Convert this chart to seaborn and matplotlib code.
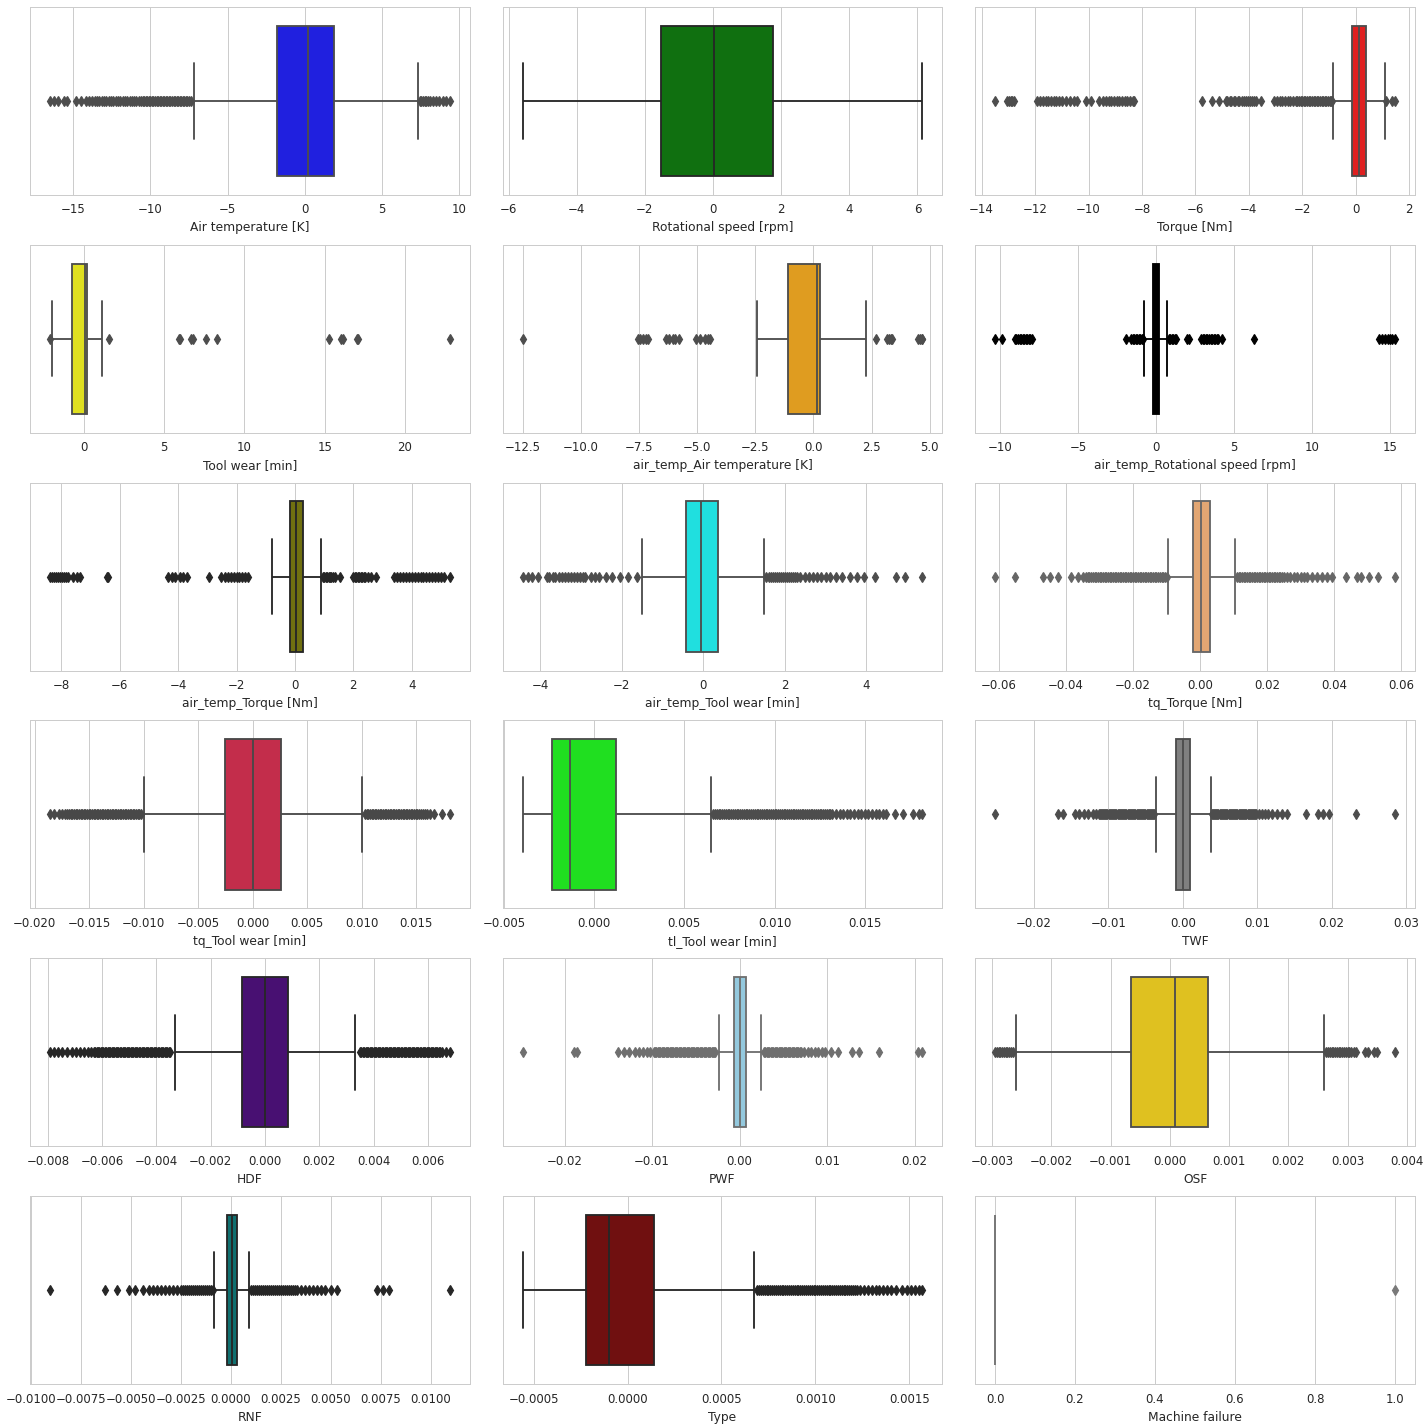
import colorsys
import numpy as np
import pandas as pd
import matplotlib
matplotlib.use("Agg")
import matplotlib.pyplot as plt
import matplotlib.colors as mcolors
import seaborn as sns

# ---------------- data ----------------
labels = ["Air temperature [K]", "Rotational speed [rpm]", "Torque [Nm]",
          "Tool wear [min]", "air_temp_Air temperature [K]", "air_temp_Rotational speed [rpm]",
          "air_temp_Torque [Nm]", "air_temp_Tool wear [min]", "tq_Torque [Nm]",
          "tq_Tool wear [min]", "tl_Tool wear [min]", "TWF",
          "HDF", "PWF", "OSF",
          "RNF", "Type", "Machine failure"]

colors = ["blue", "green", "red", "yellow", "orange", "black",
          "olive", "cyan", "sandybrown", "crimson", "lime", "gray",
          "indigo", "skyblue", "gold", "teal", "maroon", "lightblue"]

# box statistics: first quartile, median, third quartile, whisker ends
q1s = [-1.8, -1.53, -0.125, -0.72, -1.08, -0.2,
       -0.17, -0.42, -0.0020, -0.0025, -0.002325, -0.0009,
       -0.00085, -0.0006, -0.00066, -0.00018, -0.000219, 0.0]
medians = [0.2, 0.03, 0.125, 0.06, 0.17, 0.0,
           0.03, -0.05, 0.0004, 0.0, -0.00131, 0.0,
           0.0, 0.0, 0.00008, 0.00005, -0.000099, 0.0]
q3s = [1.88, 1.76, 0.375, 0.19, 0.26, 0.2,
       0.26, 0.36, 0.0031, 0.0026, 0.001236, 0.0010,
       0.00085, 0.0007, 0.00065, 0.00028, 0.00014, 0.0]
whisker_lo = [-7.15, -5.59, -0.836, -2.0, -2.41, -0.75,
              -0.78, -1.5, -0.0096, -0.0100, -0.00397, -0.0036,
              -0.0033, -0.0024, -0.0026, -0.00085, -0.000559, 0.0]
whisker_hi = [7.3, 6.15, 1.099, 1.12, 2.24, 0.72,
              0.89, 1.5, 0.0104, 0.0100, 0.0065, 0.0038,
              0.0033, 0.0025, 0.0026, 0.00088, 0.000675, 0.0]

# outliers (low side / high side) per panel
air_temperature_lo = [-16.5, -16.27, -16.0, -15.6, -15.37, -14.8, -14.47, -14.2, -13.95, -13.76,
                      -13.6, -13.45, -13.3, -13.15, -13.0, -12.85, -12.7, -12.55, -12.4, -12.25,
                      -12.1, -11.95, -11.8, -11.65, -11.5, -11.35, -11.2, -11.05, -10.9, -10.75,
                      -10.6, -10.5, -10.4, -10.3, -10.2, -10.1, -10.0, -9.9, -9.8, -9.7, -9.6,
                      -9.5, -9.4, -9.3, -9.2, -9.1, -9.0, -8.9, -8.8, -8.7, -8.6, -8.5, -8.4,
                      -8.3, -8.2, -8.1, -8.0, -7.9, -7.8, -7.7, -7.6, -7.5, -7.4]
air_temperature_hi = [7.45, 7.55, 7.65, 7.75, 7.85, 7.95, 8.1, 8.3, 8.5, 8.7, 8.95, 9.15, 9.4]

rotational_speed_lo = []
rotational_speed_hi = []

torque_lo = [-13.5, -13.05, -12.98, -12.92, -12.85, -12.8,
             -11.92, -11.8, -11.7, -11.6, -11.5, -11.4, -11.3, -11.2, -11.1, -11.0, -10.85,
             -10.7, -10.55, -10.42, -10.11, -9.9,
             -9.59, -9.45, -9.35, -9.25, -9.15, -9.05, -8.95, -8.85, -8.75, -8.65, -8.55,
             -8.45, -8.35, -8.28,
             -5.74, -5.37, -5.12,
             -4.87, -4.8, -4.72, -4.65, -4.57, -4.5, -4.42, -4.35, -4.27, -4.2, -4.12, -4.05,
             -3.97, -3.9, -3.82, -3.75, -3.56,
             -3.06, -2.95, -2.85, -2.75, -2.65, -2.55, -2.45, -2.35, -2.25, -2.18, -2.12,
             -2.06, -2.0, -1.94, -1.88, -1.82, -1.76, -1.7, -1.64, -1.58, -1.52, -1.46, -1.4,
             -1.34, -1.28, -1.22, -1.16, -1.1, -1.04, -0.98, -0.92, -0.88]
torque_hi = [1.14, 1.35, 1.47]

tool_wear_lo = [-2.1]
tool_wear_hi = [1.6, 5.9, 6.0, 6.7, 6.8, 7.6, 8.3, 15.25, 16.0, 16.15, 17.0, 17.1, 22.8]

at_air_temperature_lo = [-12.52, -7.55, -7.45, -7.35, -7.2, -7.1, -6.35, -6.2, -6.05, -5.95,
                         -5.8, -5.05, -4.9, -4.65, -4.55, -4.47]
at_air_temperature_hi = [2.71, 3.18, 3.25, 3.32, 3.38, 4.5, 4.6, 4.65, 4.69]

at_rotational_speed_lo = [-10.32, -9.87, -9.04, -8.95, -8.85, -8.75, -8.65, -8.55, -8.45, -8.35,
                          -8.25, -8.15, -8.05, -7.95, -1.95, -1.6, -1.5, -1.4, -1.3, -1.2,
                          -1.1, -1.0, -0.9, -0.85]
at_rotational_speed_hi = [0.85, 0.9, 1.0, 1.1, 1.2, 1.3, 2.0, 2.1, 2.9, 3.0, 3.1, 3.2, 3.3,
                          3.4, 3.5, 3.6, 3.7, 3.8, 3.9, 4.0, 4.2, 6.25, 14.3, 14.5, 14.7,
                          14.9, 15.0, 15.1, 15.32]

at_torque_lo = [-8.39, -8.32, -8.25, -8.18, -8.11, -8.04, -7.97, -7.9, -7.83, -7.76, -7.6,
                -7.45, -7.35, -6.45, -6.4, -4.35, -4.2, -4.1, -3.95, -3.85, -3.7, -2.95,
                -2.55, -2.4, -2.3, -2.2, -2.1, -2.0, -1.9, -1.8, -1.7, -1.6]
at_torque_hi = [0.95, 1.0, 1.05, 1.1, 1.15, 1.2, 1.25, 1.3, 1.37, 1.55, 2.0, 2.05, 2.1, 2.15,
                2.2, 2.25, 2.3, 2.35, 2.4, 2.5, 2.6, 2.77, 3.4, 3.5, 3.6, 3.7, 3.8, 3.9, 4.0,
                4.1, 4.2, 4.3, 4.4, 4.5, 4.6, 4.7, 4.8, 4.9, 5.0, 5.1, 5.31]

at_tool_wear_lo = [-4.44, -4.3, -4.2, -4.05, -3.85, -3.78, -3.7, -3.63, -3.55, -3.48, -3.4,
                   -3.33, -3.25, -3.18, -3.1, -3.03, -2.95, -2.9, -2.75, -2.65, -2.55, -2.4,
                   -2.25, -2.05, -1.85, -1.62]
at_tool_wear_hi = [1.55, 1.6, 1.65, 1.7, 1.75, 1.8, 1.85, 1.9, 1.95, 2.0, 2.05, 2.1, 2.15, 2.2,
                   2.25, 2.3, 2.38, 2.5, 2.6, 2.7, 2.8, 2.9, 3.0, 3.1, 3.25, 3.4, 3.6, 3.78,
                   3.95, 4.22, 4.74, 4.96, 5.38]

tq_torque_lo = [-0.0612, -0.0552, -0.0469, -0.0448, -0.0424, -0.0385, -0.0364, -0.0349, -0.034,
                -0.0335, -0.033, -0.0325, -0.032, -0.0315, -0.031, -0.0305, -0.030, -0.0295,
                -0.029, -0.0285, -0.028, -0.0275, -0.027, -0.0265, -0.026, -0.0255, -0.025,
                -0.0245, -0.024, -0.0235, -0.023, -0.0225, -0.022, -0.0215, -0.021, -0.0205,
                -0.020, -0.0195, -0.019, -0.0185, -0.018, -0.0175, -0.017, -0.0165, -0.016,
                -0.0155, -0.015, -0.0145, -0.014, -0.0135, -0.013, -0.0125, -0.012, -0.0115,
                -0.011, -0.0105, -0.0099]
tq_torque_hi = [0.011, 0.0115, 0.012, 0.0125, 0.013, 0.0135, 0.014, 0.0145, 0.015, 0.0155,
                0.016, 0.0165, 0.017, 0.0175, 0.018, 0.0185, 0.019, 0.0195, 0.02, 0.0205,
                0.021, 0.0215, 0.022, 0.0225, 0.023, 0.0235, 0.024, 0.0245, 0.025, 0.026,
                0.027, 0.028, 0.029, 0.03, 0.031, 0.032, 0.0335, 0.035, 0.0365, 0.038,
                0.0395, 0.0435, 0.047, 0.048, 0.0505, 0.053, 0.0582]

tq_tool_wear_lo = [-0.0186, -0.0182, -0.0178, -0.0175, -0.0172, -0.0170, -0.01685, -0.0167,
                   -0.01655, -0.0164, -0.01625, -0.0161, -0.01595, -0.0158, -0.01565, -0.0155,
                   -0.01535, -0.0152, -0.01505, -0.0149, -0.01475, -0.0146, -0.01445, -0.0143,
                   -0.01415, -0.014, -0.01385, -0.0137, -0.01355, -0.0134, -0.01325, -0.0131,
                   -0.01295, -0.0128, -0.01265, -0.0125, -0.01235, -0.0122, -0.01205, -0.0119,
                   -0.01175, -0.0116, -0.01145, -0.0113, -0.01115, -0.011, -0.01085, -0.0107,
                   -0.01055, -0.0104, -0.01025]
tq_tool_wear_hi = [0.0103, 0.01045, 0.0106, 0.01075, 0.0109, 0.01105, 0.0112, 0.01135, 0.0115,
                   0.01165, 0.0118, 0.01195, 0.0121, 0.01225, 0.0124, 0.01255, 0.0127, 0.01285,
                   0.013, 0.01315, 0.0133, 0.01345, 0.0136, 0.01375, 0.0139, 0.01405, 0.0142,
                   0.01435, 0.0145, 0.01465, 0.0148, 0.01495, 0.0151, 0.01525, 0.0154, 0.0156,
                   0.0158, 0.016, 0.0163, 0.0166, 0.0174, 0.0181]

tl_tool_wear_lo = []
tl_tool_wear_hi = [0.0066, 0.0067, 0.0068, 0.0069, 0.0070, 0.0071, 0.0072, 0.0073, 0.0074,
                   0.0075, 0.0076, 0.0077, 0.0078, 0.0079, 0.0080, 0.0081, 0.0082, 0.0083,
                   0.0084, 0.0085, 0.0086, 0.0087, 0.0088, 0.0089, 0.0090, 0.0091, 0.0092,
                   0.0093, 0.0094, 0.0095, 0.0096, 0.0097, 0.0098, 0.0099, 0.0100, 0.0101,
                   0.0102, 0.0103, 0.0104, 0.0105, 0.0106, 0.0107, 0.0108, 0.0109, 0.0110,
                   0.0111, 0.0112, 0.0113, 0.0114, 0.0115, 0.0116, 0.0117, 0.0118, 0.0119,
                   0.0120, 0.0121, 0.0122, 0.0123, 0.0124, 0.0125, 0.0126, 0.0127, 0.0128,
                   0.0129, 0.0130, 0.0131, 0.0132, 0.0134, 0.0136, 0.0138, 0.014, 0.0142,
                   0.0144, 0.0146, 0.0148, 0.015, 0.0152, 0.0154, 0.0156, 0.0158, 0.016,
                   0.0162, 0.0167, 0.0171, 0.0177, 0.018, 0.0182]

twf_lo = [-0.0252, -0.0168, -0.0161, -0.0145, -0.0139, -0.0133, -0.0127, -0.0121, -0.0116,
          -0.0113, -0.01115, -0.011, -0.01085, -0.0107, -0.01055, -0.0104, -0.01025, -0.0101,
          -0.00995, -0.0098, -0.00965, -0.0095, -0.00935, -0.0092, -0.00905, -0.0089,
          -0.00875, -0.0086, -0.00845, -0.0083, -0.00815, -0.008, -0.00785, -0.0077,
          -0.00755, -0.0074, -0.00725, -0.0071, -0.00695, -0.0068, -0.00665, -0.0065,
          -0.00635, -0.0062, -0.00605, -0.0059, -0.00575, -0.0056, -0.00545, -0.0053,
          -0.00515, -0.005, -0.00485, -0.0047, -0.00455, -0.0044, -0.00425, -0.0041,
          -0.00395, -0.0038]
twf_hi = [0.0039, 0.00405, 0.0042, 0.00435, 0.0045, 0.00465, 0.0048, 0.00495, 0.0051, 0.00525,
          0.0054, 0.00555, 0.0057, 0.00585, 0.006, 0.00615, 0.0063, 0.00645, 0.0066, 0.00675,
          0.0069, 0.00705, 0.0072, 0.00735, 0.0075, 0.00765, 0.0078, 0.00795, 0.0081,
          0.00825, 0.0084, 0.00855, 0.0087, 0.00885, 0.009, 0.00915, 0.0093, 0.00945,
          0.0096, 0.00975, 0.0099, 0.0102, 0.0106, 0.011, 0.0115, 0.012, 0.0126, 0.0133,
          0.014, 0.0165, 0.0182, 0.0188, 0.0197, 0.0232, 0.0285]

hdf_lo = [-0.00792, -0.00777, -0.00763, -0.00748, -0.0073, -0.00711, -0.00696, -0.00682,
          -0.00667, -0.00652, -0.00641, -0.0063, -0.00625, -0.0062, -0.00615, -0.0061,
          -0.00605, -0.006, -0.00595, -0.0059, -0.00585, -0.0058, -0.00575, -0.0057,
          -0.00565, -0.0056, -0.00555, -0.0055, -0.00545, -0.0054, -0.00535, -0.0053,
          -0.00525, -0.0052, -0.00515, -0.0051, -0.00505, -0.005, -0.00495, -0.0049,
          -0.00485, -0.0048, -0.00475, -0.0047, -0.00465, -0.0046, -0.00455, -0.0045,
          -0.00445, -0.0044, -0.00435, -0.0043, -0.00425, -0.0042, -0.00415, -0.0041,
          -0.00405, -0.004, -0.00395, -0.0039, -0.00385, -0.0038, -0.00375, -0.0037,
          -0.00365, -0.0036, -0.00355, -0.0035]
hdf_hi = [0.0035, 0.00355, 0.0036, 0.00365, 0.0037, 0.00375, 0.0038, 0.00385, 0.0039, 0.00395,
          0.004, 0.00405, 0.0041, 0.00415, 0.0042, 0.00425, 0.0043, 0.00435, 0.0044, 0.00445,
          0.0045, 0.00455, 0.0046, 0.00465, 0.0047, 0.00475, 0.0048, 0.00485, 0.0049, 0.00495,
          0.005, 0.00505, 0.0051, 0.00515, 0.0052, 0.00525, 0.0053, 0.00535, 0.0054, 0.00545,
          0.0055, 0.00555, 0.0056, 0.00565, 0.0057, 0.00575, 0.0058, 0.00585, 0.0059, 0.00595,
          0.006, 0.00605, 0.0061, 0.00615, 0.0062, 0.00625, 0.0063, 0.00635, 0.0064, 0.00645,
          0.0065, 0.00667, 0.00681]

pwf_lo = [-0.0248, -0.0189, -0.0186, -0.0139, -0.0132, -0.0126, -0.012, -0.0115, -0.011,
          -0.0106, -0.0102, -0.0098, -0.00965, -0.0095, -0.00935, -0.0092, -0.00905, -0.0089,
          -0.00875, -0.0086, -0.00845, -0.0083, -0.00815, -0.008, -0.00785, -0.0077,
          -0.00755, -0.0074, -0.00725, -0.0071, -0.00695, -0.0068, -0.00665, -0.0065,
          -0.00635, -0.0062, -0.00605, -0.0059, -0.00575, -0.0056, -0.00545, -0.0053,
          -0.00515, -0.005, -0.00485, -0.0047, -0.00455, -0.0044, -0.00425, -0.0041,
          -0.00395, -0.0038, -0.00365, -0.0035, -0.00335, -0.0032, -0.00305, -0.0029,
          -0.00275]
pwf_hi = [0.0028, 0.00295, 0.0031, 0.00325, 0.0034, 0.00355, 0.0037, 0.00385, 0.004, 0.00415,
          0.0043, 0.00445, 0.0046, 0.00475, 0.0049, 0.00505, 0.0052, 0.00535, 0.0055, 0.00565,
          0.0058, 0.00595, 0.0061, 0.00625, 0.0064, 0.00655, 0.0067, 0.00685, 0.007, 0.0074,
          0.0078, 0.0082, 0.0086, 0.009, 0.0094, 0.0098, 0.0104, 0.0113, 0.0129, 0.0137,
          0.0159, 0.0204, 0.0209]

osf_lo = [-0.00295, -0.00292, -0.00289, -0.00286, -0.00283, -0.0028, -0.00277, -0.00274,
          -0.00271, -0.00268, -0.00265]
osf_hi = [0.00264, 0.00267, 0.0027, 0.00273, 0.00276, 0.00279, 0.00282, 0.00285, 0.00288,
          0.00291, 0.00294, 0.00297, 0.003, 0.00303, 0.00306, 0.0031, 0.00315, 0.0033,
          0.00335, 0.00345, 0.0035, 0.0038]

rnf_lo = [-0.00905, -0.0063, -0.0057, -0.0051, -0.0048, -0.0044, -0.0041, -0.0039, -0.0037,
          -0.0035, -0.0033, -0.0031, -0.0029, -0.0027, -0.0025, -0.0024, -0.0023, -0.0022,
          -0.0021, -0.002, -0.0019, -0.0018, -0.0017, -0.0016, -0.0015, -0.0014, -0.0013,
          -0.0012, -0.0011, -0.001, -0.0009]
rnf_hi = [0.001, 0.0011, 0.0012, 0.0013, 0.0014, 0.0015, 0.0016, 0.0017, 0.0018, 0.0019,
          0.002, 0.0021, 0.0022, 0.0023, 0.0024, 0.0025, 0.0026, 0.0027, 0.0028, 0.0029,
          0.003, 0.0031, 0.0032, 0.0033, 0.0035, 0.0037, 0.0039, 0.0041, 0.0043, 0.0045,
          0.0047, 0.005, 0.0053, 0.0073, 0.0076, 0.0079, 0.01095]

type_lo = []
type_hi = [0.00069, 0.0007, 0.00071, 0.00072, 0.00073, 0.00074, 0.00075, 0.00076, 0.00077,
           0.00078, 0.00079, 0.0008, 0.00081, 0.00082, 0.00083, 0.00084, 0.00085, 0.00086,
           0.00087, 0.00088, 0.00089, 0.0009, 0.00091, 0.00092, 0.00093, 0.00094, 0.00095,
           0.00096, 0.00097, 0.00098, 0.00099, 0.001, 0.00101, 0.00102, 0.00103, 0.00104,
           0.00105, 0.00106, 0.00107, 0.00108, 0.00109, 0.0011, 0.00111, 0.00112, 0.00113,
           0.00114, 0.00115, 0.00116, 0.00117, 0.00118, 0.00119, 0.0012, 0.00121, 0.00122,
           0.00124, 0.00126, 0.00128, 0.0013, 0.00132, 0.00134, 0.00136, 0.00138, 0.0014,
           0.00143, 0.00146, 0.00149, 0.00151, 0.00153, 0.00155, 0.00157]

machine_failure_lo = []
machine_failure_hi = [1.0]

outliers_lo = [air_temperature_lo, rotational_speed_lo, torque_lo, tool_wear_lo,
               at_air_temperature_lo, at_rotational_speed_lo, at_torque_lo, at_tool_wear_lo,
               tq_torque_lo, tq_tool_wear_lo, tl_tool_wear_lo, twf_lo, hdf_lo, pwf_lo,
               osf_lo, rnf_lo, type_lo, machine_failure_lo]
outliers_hi = [air_temperature_hi, rotational_speed_hi, torque_hi, tool_wear_hi,
               at_air_temperature_hi, at_rotational_speed_hi, at_torque_hi, at_tool_wear_hi,
               tq_torque_hi, tq_tool_wear_hi, tl_tool_wear_hi, twf_hi, hdf_hi, pwf_hi,
               osf_hi, rnf_hi, type_hi, machine_failure_hi]


def sample_from_summary(q1, med, q3, wlo, whi, lo, hi):
    n = 10 * (len(lo) + len(hi) + 2)
    return np.array(list(lo) + [wlo] + [q1] * n + [med] * n + [q3] * n + [whi] + list(hi))


# ---------------- drawing ----------------
sns.set_style("whitegrid")
plt.rcParams["font.family"] = ["DejaVu Sans"]

W, H = 1426, 1428
DPI = 88.5
fig, axes = plt.subplots(6, 3, figsize=(W / DPI, H / DPI), dpi=DPI)
fig.subplots_adjust(left=30 / W, right=1415 / W, top=1 - 7 / H, bottom=1 - 1384 / H,
                    wspace=0.0739, hspace=0.266)

for ax, label, color, q1, med, q3, wlo, whi, lo, hi in zip(
        axes.flat, labels, colors, q1s, medians, q3s, whisker_lo, whisker_hi,
        outliers_lo, outliers_hi):
    values = pd.Series(sample_from_summary(q1, med, q3, wlo, whi, lo, hi), name=label)
    lum = colorsys.rgb_to_hls(*mcolors.to_rgb(color))[1] * 0.6
    line_color = (lum, lum, lum)
    sns.boxplot(x=values, ax=ax, color=color, saturation=0.75, linecolor=line_color,
                linewidth=1.5, width=0.8,
                flierprops=dict(marker="d", markersize=5.3, markerfacecolor=line_color,
                                markeredgecolor=line_color))
    ax.set_xlabel(label, fontsize=10)
    ax.tick_params(axis="x", labelsize=9.6)

fig.savefig("out.png", dpi=DPI)
